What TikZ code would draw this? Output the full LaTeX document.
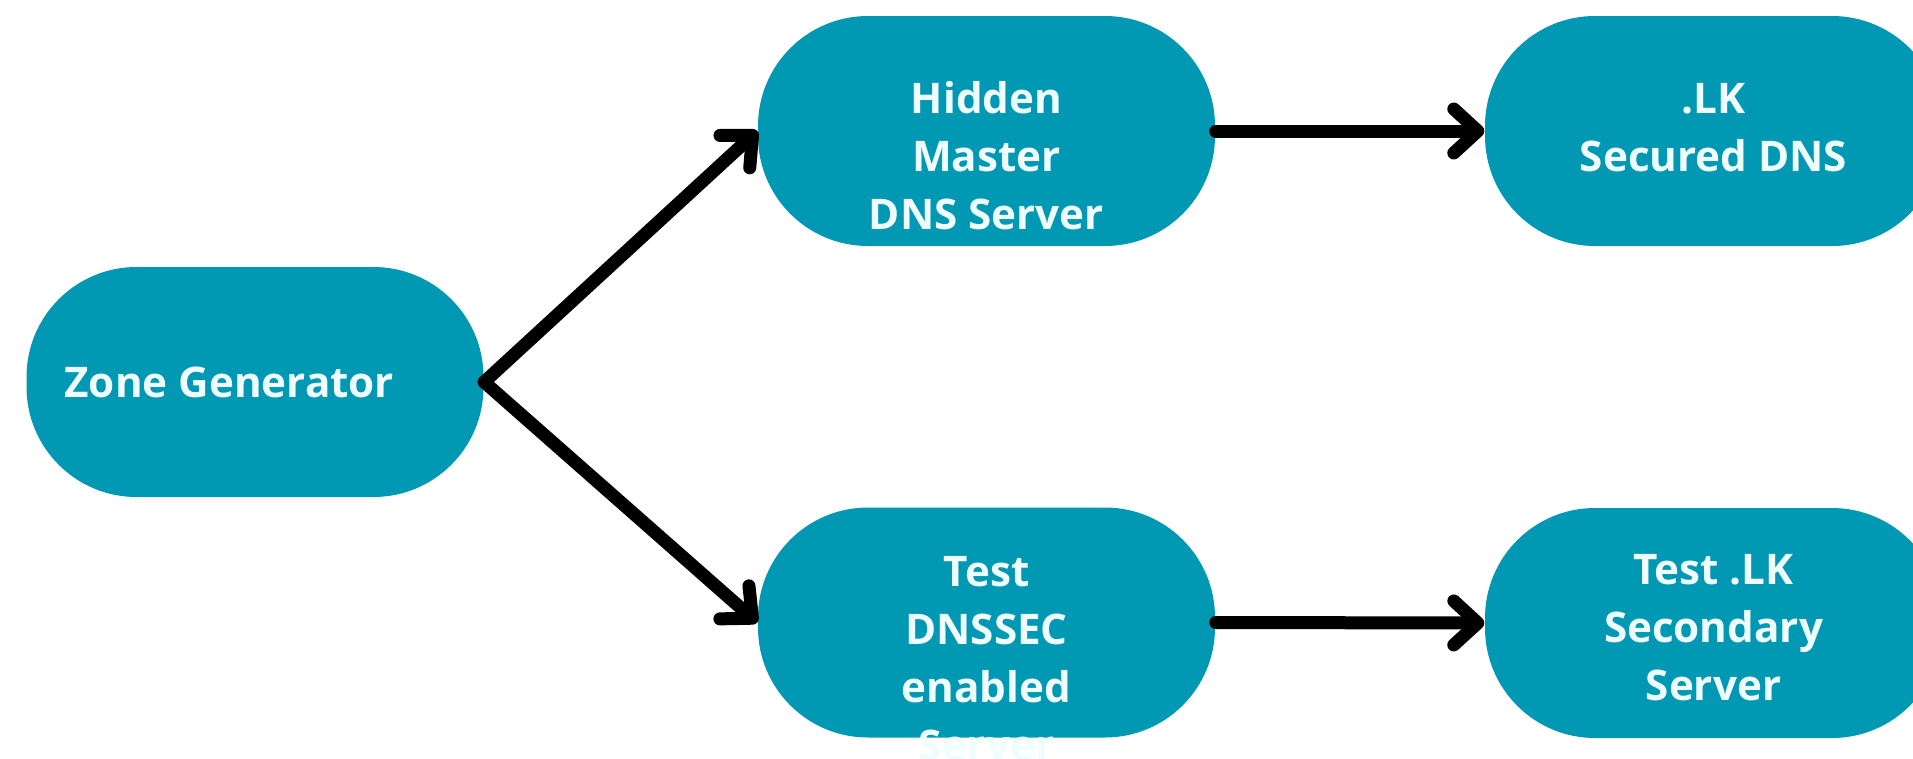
\documentclass[tikz,border=0pt]{standalone}
\usepackage{fontspec}
\setmainfont{Open Sans}
\usepackage{tikz}
\usetikzlibrary{arrows.meta}
\definecolor{BoxTeal}{RGB}{ 1, 152, 179}
\definecolor{BoxText}{RGB}{ 240, 253, 255}

\begin{document}
\begin{tikzpicture}
      \tikzstyle{box}=[fill=BoxTeal, rounded corners=1.1cm, minimum width=4.57cm, minimum height=2.3cm, inner sep=0pt];
      \tikzstyle{txt}=[text=BoxText, align=center, font=\fontsize{12}{16.5}\selectfont\bfseries, inner sep=0pt];
      \tikzstyle{conn}=[line width=0.13cm, line cap=round, line join=round, -{Straight Barb[length=2.4mm, width=4.4mm, round]}];

      \useasboundingbox (0, 0) rectangle (19.13, 7.58);

      \node[box] (zone) at (2.55, 3.76) {};
      \node[box] (hidden) at (9.865, 6.27) {};
      \node[box] (test) at (9.865, 1.355) {};
      \node[box] (lk) at (17.135, 6.27) {};
      \node[box] (lksec) at (17.135, 1.35) {};

      \node[txt, anchor=west] (zone-txt) at ([xshift=0.38cm]zone.west) {Zone Generator};
      \node[txt] (hidden-txt) at ([yshift=-0.25cm]hidden.center) {Hidden\\Master\\DNS Server};
      \node[txt] (test-txt) at ([yshift=-0.36cm]test.center) {Test\\DNSSEC\\enabled\\Server};
      \node[txt] (lk-txt) at ([yshift=0.03cm]lk.center) {.LK\\Secured DNS};
      \node[txt] (lksec-txt) at ([yshift=-0.05cm]lksec.center) {Test .LK\\Secondary\\Server};

      \draw[conn] (zone.east) -- (hidden.west);
      \draw[conn] (zone.east) -- (test.west);
      \draw[conn] (hidden.east) -- (lk.west);
      \draw[conn] (test.east) -- (lksec.west);
    \end{tikzpicture}
\end{document}
